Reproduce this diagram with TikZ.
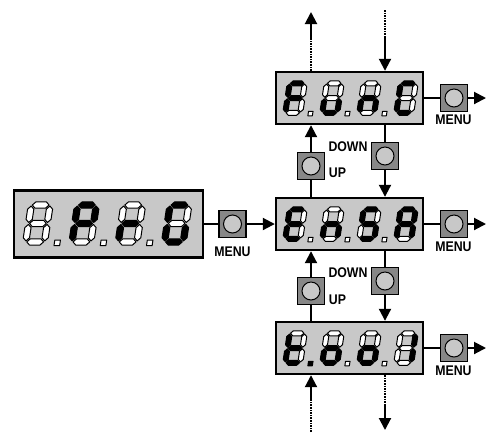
\documentclass[tikz,border=0pt]{standalone}
\usepackage{fontspec}
\newfontfamily\labfont{Liberation Sans}
\usetikzlibrary{arrows.meta}
\definecolor{dispgray}{RGB}{200,200,200}
\definecolor{btngray}{RGB}{135,135,135}
\definecolor{knobgray}{RGB}{200,200,200}
\tikzset{
 disp/.style={draw=black,line width=2.4pt,fill=dispgray,inner sep=0},
 btn/.style={draw=black,line width=1.2pt,fill=btngray,minimum size=27pt,inner sep=0},
 knob/.style={circle,draw=black,line width=1pt,fill=knobgray,minimum size=18pt,inner sep=0},
 wire/.style={line width=2pt},
 arr/.style={wire,-{Triangle[length=12pt,width=12pt]}},
 dots/.style={line width=2.2pt,dash pattern=on 1.6pt off 1pt},
 lab/.style={font=\labfont\bfseries\fontsize{14}{14}\selectfont,inner sep=0,xscale=0.88},
 seg1/.style={fill=black,draw=black,line width=1pt,line join=round},
 seg0/.style={fill=white,draw=black,line width=1pt,line join=round},
 dig/.style n args={3}{shift={(#1,#2)},scale=#3,yscale=-1,xslant=-0.15},
}
\newcommand\sevenseg[7]{%
\path[seg#1] (0.8,29.5) -- (3.3,32) -- (11.7,32) -- (14.2,29.5) -- (11.7,27) -- (3.3,27) -- cycle;
\path[seg#2] (15,15.55) -- (17.5,18.05) -- (17.5,26.2) -- (15,28.7) -- (12.5,26.2) -- (12.5,18.05) -- cycle;
\path[seg#3] (15,0.8) -- (17.5,3.3) -- (17.5,11.45) -- (15,13.95) -- (12.5,11.45) -- (12.5,3.3) -- cycle;
\path[seg#4] (0.8,0) -- (3.3,2.5) -- (11.7,2.5) -- (14.2,0) -- (11.7,-2.5) -- (3.3,-2.5) -- cycle;
\path[seg#5] (0,0.8) -- (2.5,3.3) -- (2.5,11.45) -- (0,13.95) -- (-2.5,11.45) -- (-2.5,3.3) -- cycle;
\path[seg#6] (0,15.55) -- (2.5,18.05) -- (2.5,26.2) -- (0,28.7) -- (-2.5,26.2) -- (-2.5,18.05) -- cycle;
\path[seg#7] (0.8,14.75) -- (3.3,17.25) -- (11.7,17.25) -- (14.2,14.75) -- (11.7,12.25) -- (3.3,12.25) -- cycle;
}
\newcommand\segdot[1]{\path[seg#1] (23,-3) rectangle (27.5,1.5);}
\begin{document}
\begin{tikzpicture}[x=1pt,y=-1pt]
\useasboundingbox (0,0) rectangle (486,432);
\fill[white] (0,0) rectangle (486,432);
% displays
\node[disp,minimum width=189pt,minimum height=67pt] (dL) at (108.5,224) {};
\node[disp,minimum width=147pt,minimum height=52pt] (dT) at (349.5,98) {};
\node[disp,minimum width=147pt,minimum height=52pt] (dM) at (349.5,224) {};
\node[disp,minimum width=147pt,minimum height=52pt] (dB) at (349.5,348) {};
% buttons
\node[btn] (mL) at (232.5,224) {};
\node[btn] (mT) at (454,98) {};
\node[btn] (mM) at (454,224) {};
\node[btn] (mB) at (454,348) {};
\node[btn] (u1) at (311,166) {};
\node[btn] (d1) at (385,156) {};
\node[btn] (u2) at (311,291) {};
\node[btn] (d2) at (385,281) {};
\foreach \b in {mL,mT,mM,mB,u1,d1,u2,d2} {\node[knob] (k\b) at (\b) {};}
% labels
\node[lab] (lmL) at (232.5,252) {MENU};
\node[lab] (lmT) at (453.5,120) {MENU};
\node[lab] (lmM) at (453.5,246.5) {MENU};
\node[lab] (lmB) at (453.5,371) {MENU};
\node[lab] (ld1) at (348,146.7) {DOWN};
\node[lab] (lu1) at (337.5,173) {UP};
\node[lab] (ld2) at (348,272.5) {DOWN};
\node[lab] (lu2) at (337.5,300) {UP};
% coordinates
\coordinate (eT) at (486,98);
\coordinate (eM) at (486,224);
\coordinate (eB) at (486,348);
\coordinate (t1) at (311,12);
\coordinate (t1a) at (311,40);
\coordinate (t2) at (385,10);
\coordinate (t2a) at (385,37);
\coordinate (b1) at (311,432);
\coordinate (b1a) at (311,400);
\coordinate (b2a) at (385,405);
\coordinate (b2) at (385,430);
% horizontal connectors
\draw[wire] (dL.east) -- (mL.west);
\draw[arr] (mL.east) -- (dM.west);
\draw[wire] (dT.east) -- (mT.west);
\draw[arr] (mT.east) -- (eT);
\draw[wire] (dM.east) -- (mM.west);
\draw[arr] (mM.east) -- (eM);
\draw[wire] (dB.east) -- (mB.west);
\draw[arr] (mB.east) -- (eB);
% vertical connectors
\draw[arr] (u1.north) -- (u1.north |- dT.south);
\draw[wire] (u1.south) -- (u1.south |- dM.north);
\draw[wire] (d1.north |- dT.south) -- (d1.north);
\draw[arr] (d1.south) -- (d1.south |- dM.north);
\draw[arr] (u2.north) -- (u2.north |- dM.south);
\draw[wire] (u2.south) -- (u2.south |- dB.north);
\draw[wire] (d2.north |- dM.south) -- (d2.north);
\draw[arr] (d2.south) -- (d2.south |- dB.north);
\draw[dots] (t1 |- dT.north) -- (t1a);
\draw[arr] (t1a) -- (t1);
\draw[dots] (t2) -- (t2a);
\draw[arr] (t2a) -- (t2 |- dT.north);
\draw[dots] (b1) -- (b1a);
\draw[arr] (b1a) -- (b1 |- dB.south);
\draw[dots] (b2 |- dB.south) -- (b2a);
\draw[arr] (b2a) -- (b2);
% left display: blank P r G
\begin{scope}[dig={25.8}{241.9}{1.25}]\sevenseg0000000\segdot0\end{scope}
\begin{scope}[dig={72.05}{241.9}{1.25}]\sevenseg1100111\segdot0\end{scope}
\begin{scope}[dig={118.3}{241.9}{1.25}]\sevenseg0000101\segdot0\end{scope}
\begin{scope}[dig={164.55}{241.9}{1.25}]\sevenseg1011110\end{scope}
% top display: F u n C
\begin{scope}[dig={285.3}{112.75}{1}]\sevenseg1000111\segdot0\end{scope}
\begin{scope}[dig={322.3}{112.75}{1}]\sevenseg0011100\segdot0\end{scope}
\begin{scope}[dig={359.3}{112.75}{1}]\sevenseg0010101\segdot0\end{scope}
\begin{scope}[dig={396.3}{112.75}{1}]\sevenseg1001110\end{scope}
% middle display: E n S A
\begin{scope}[dig={285.3}{238.75}{1}]\sevenseg1001111\segdot0\end{scope}
\begin{scope}[dig={322.3}{238.75}{1}]\sevenseg0010101\segdot0\end{scope}
\begin{scope}[dig={359.3}{238.75}{1}]\sevenseg1011011\segdot0\end{scope}
\begin{scope}[dig={396.3}{238.75}{1}]\sevenseg1110111\end{scope}
% bottom display: t o o 1
\begin{scope}[dig={285.3}{362.75}{1}]\sevenseg0001111\segdot1\end{scope}
\begin{scope}[dig={322.3}{362.75}{1}]\sevenseg0011101\segdot0\end{scope}
\begin{scope}[dig={359.3}{362.75}{1}]\sevenseg0011101\segdot0\end{scope}
\begin{scope}[dig={396.3}{362.75}{1}]\sevenseg0110000\end{scope}
\end{tikzpicture}
\end{document}
